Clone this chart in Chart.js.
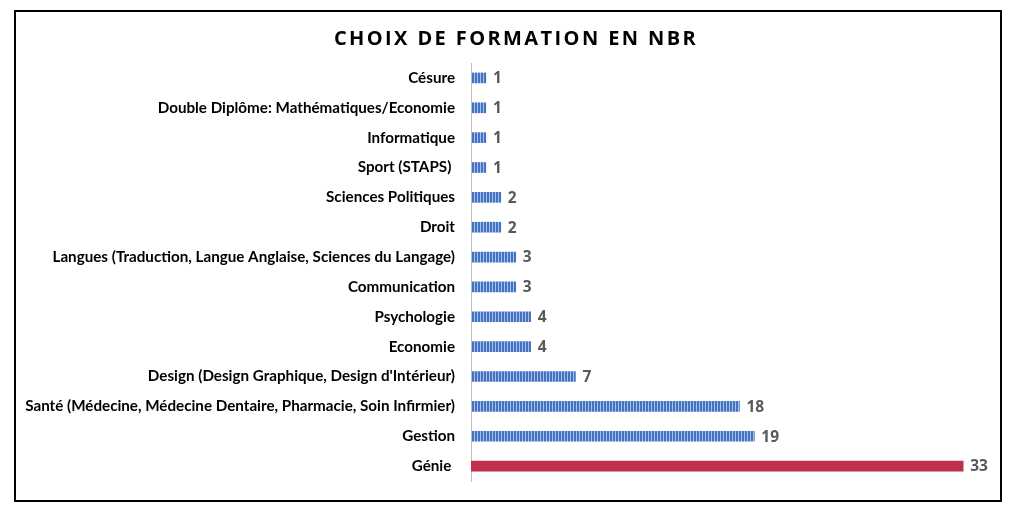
<!DOCTYPE html>
<html>
<head>
<meta charset="utf-8">
<script src="https://cdn.jsdelivr.net/npm/chart.js@4/dist/chart.umd.min.js"></script>
<style>
  body { margin: 0; background: #fff; }
  #chart { position: absolute; left: 16px; top: 12px; display: block; }
  #frame {
    position: absolute; left: 14px; top: 10px;
    width: 988px; height: 492px;
    border: 2px solid #000; box-sizing: border-box;
    pointer-events: none;
  }
</style>
</head>
<body>
<canvas id="chart" width="984" height="500"></canvas>
<div id="frame"></div>
<script>
// Data (top to bottom)
const titleText = 'CHOIX DE FORMATION EN NBR';
const categories = [
    'Césure',
    'Double Diplôme: Mathématiques/Economie',
    'Informatique',
    'Sport (STAPS) ',
    'Sciences Politiques',
    'Droit',
    'Langues (Traduction, Langue Anglaise, Sciences du Langage)',
    'Communication',
    'Psychologie',
    'Economie',
    "Design (Design Graphique, Design d'Intérieur)",
    'Santé (Médecine, Médecine Dentaire, Pharmacie, Soin Infirmier)',
    'Gestion',
    'Génie '
];
const counts = [1, 1, 1, 1, 2, 2, 3, 3, 4, 4, 7, 18, 19, 33];
const highlight = 'Génie ';

// Striped blue fill like the original
function stripePattern() {
    const c = document.createElement('canvas');
    c.width = 3; c.height = 1;
    const g = c.getContext('2d');
    g.fillStyle = '#4472C4';
    g.fillRect(0, 0, 2, 1);
    g.fillStyle = '#A8BFE6';
    g.fillRect(2, 0, 1, 1);
    return g.createPattern(c, 'repeat');
}
const stripes = stripePattern();
const barColors = categories.map(c => c === highlight ? '#C0304A' : stripes);

// Value labels at the end of each bar
const valueLabels = {
    id: 'valueLabels',
    afterDatasetsDraw(chart) {
        const ctx = chart.ctx;
        const meta = chart.getDatasetMeta(0);
        ctx.save();
        ctx.font = 'bold 15.5px "Open Sans"';
        ctx.fillStyle = '#595959';
        ctx.textBaseline = 'middle';
        meta.data.forEach((bar, i) => {
            ctx.fillText(String(counts[i]), bar.x + 7, bar.y + 1);
        });
        ctx.restore();
    }
};

// Title with letter spacing
const spacedTitle = {
    id: 'spacedTitle',
    afterDraw(chart) {
        const ctx = chart.ctx;
        ctx.save();
        ctx.font = 'bold 20px "Open Sans"';
        ctx.letterSpacing = '2.4px';
        ctx.fillStyle = '#000';
        ctx.textAlign = 'center';
        ctx.textBaseline = 'middle';
        ctx.fillText(titleText, 500, 27);
        ctx.restore();
    }
};

new Chart(document.getElementById('chart'), {
    type: 'bar',
    data: {
        labels: categories,
        datasets: [{
            data: counts,
            backgroundColor: barColors,
            barThickness: 10
        }]
    },
    options: {
        indexAxis: 'y',
        responsive: false,
        animation: false,
        layout: { padding: { top: 51, bottom: 31, right: 7, left: 0 } },
        plugins: {
            legend: { display: false },
            title: { display: false },
            tooltip: { enabled: false }
        },
        scales: {
            x: {
                display: false,
                min: 0,
                max: 35
            },
            y: {
                grid: { display: false, drawTicks: false },
                border: { display: true, color: '#BFBFBF', width: 1 },
                ticks: {
                    color: '#000',
                    padding: 16,
                    font: { family: 'Lato', size: 15.2, weight: 'bold' }
                },
                afterFit(scale) { scale.width = 455; }
            }
        }
    },
    plugins: [valueLabels, spacedTitle]
});
</script>
</body>
</html>
